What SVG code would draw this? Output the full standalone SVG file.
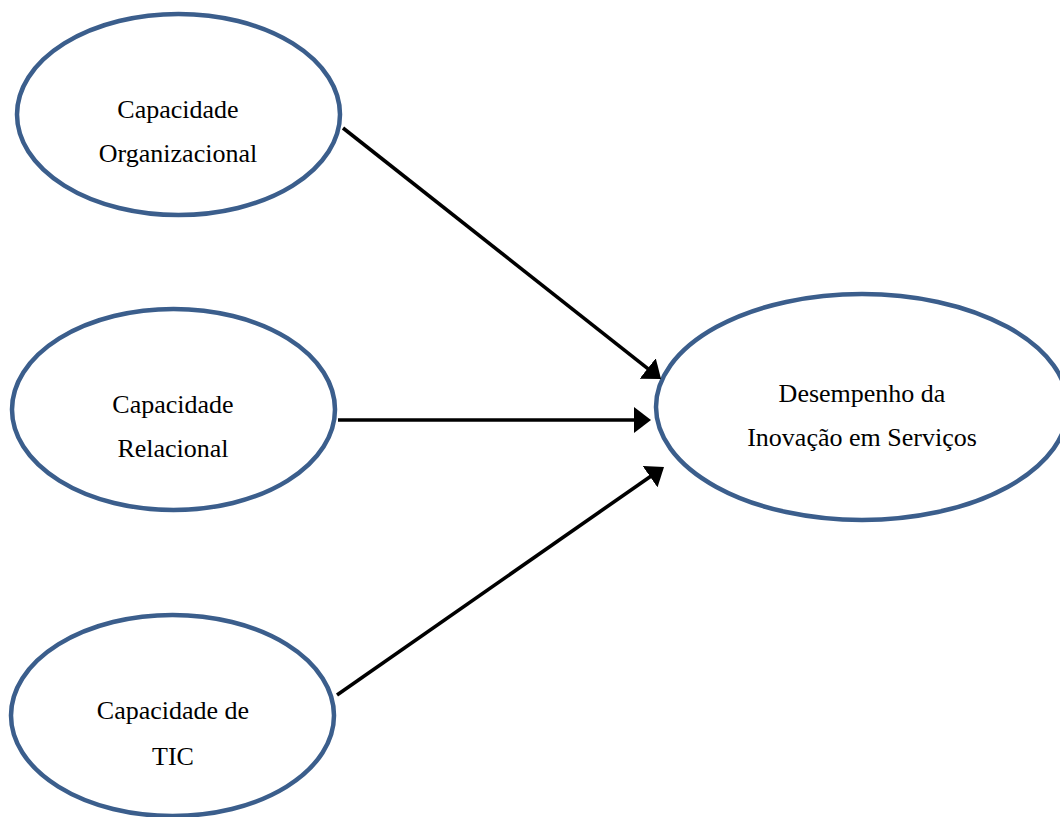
<svg xmlns="http://www.w3.org/2000/svg" width="1060" height="817" viewBox="0 0 1060 817">
<style>
.node ellipse{fill:#fff;stroke:#3B5E8C;stroke-width:4.5}
.node text{font-family:"Liberation Serif","Times New Roman",serif;font-size:26px;fill:#000;text-anchor:middle}
.edge{stroke:#000;stroke-width:3.6;fill:none;marker-end:url(#arr)}
</style>
<defs>
<marker id="arr" markerUnits="userSpaceOnUse" markerWidth="17" markerHeight="26" viewBox="0 -13 17 26" refX="7" refY="0" orient="auto">
<path d="M0,-13 L17,0 L0,13 z" fill="#000"/>
</marker>
</defs>
<rect width="1060" height="817" fill="#fff"/>
<g id="n-org" class="node">
<ellipse cx="178.5" cy="114.5" rx="161.5" ry="100.5"/>
<text x="178" y="118">Capacidade</text>
<text x="178" y="162">Organizacional</text>
</g>
<g id="n-rel" class="node">
<ellipse cx="173.5" cy="409.5" rx="161.5" ry="100.5"/>
<text x="173" y="413">Capacidade</text>
<text x="173" y="457">Relacional</text>
</g>
<g id="n-tic" class="node">
<ellipse cx="172.5" cy="715.5" rx="161.5" ry="100.5"/>
<text x="173" y="719">Capacidade de</text>
<text x="173" y="765">TIC</text>
</g>
<g id="n-des" class="node">
<ellipse cx="862" cy="407" rx="206" ry="113"/>
<text x="862" y="402">Desempenho da</text>
<text x="862" y="446">Inovação em Serviços</text>
</g>
<g id="connectors">
<line class="edge" x1="343" y1="128" x2="653.2" y2="372.8"/>
<line class="edge" x1="338" y1="420" x2="641" y2="420"/>
<line class="edge" x1="337" y1="695" x2="655.8" y2="472.7"/>
</g>
</svg>
